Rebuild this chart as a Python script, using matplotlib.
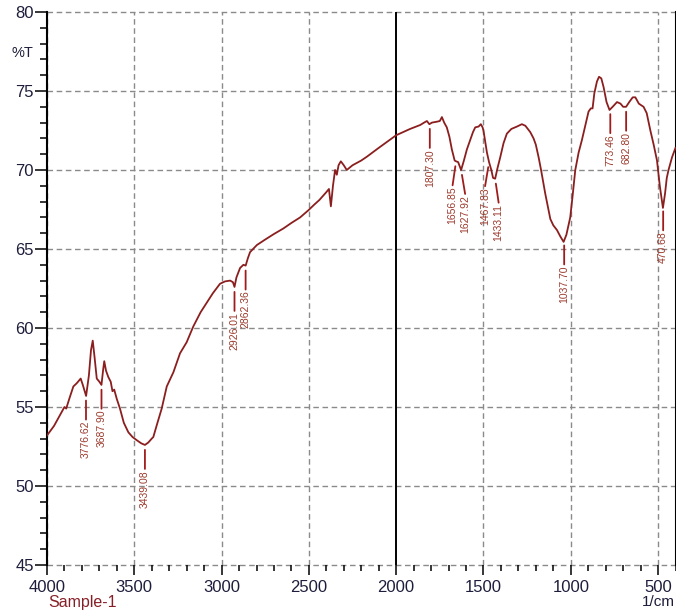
"""FTIR transmittance spectrum of Sample-1 with labelled absorption bands."""

import numpy as np
import matplotlib.pyplot as plt
from matplotlib.ticker import MultipleLocator

plt.rcParams['font.family'] = ['Liberation Sans', 'DejaVu Sans']

# spectrum, wavenumber (1/cm) vs transmittance (%T)
wavenumber = [
    4000, 3960, 3930, 3900, 3890, 3870, 3849, 3830, 3807, 3795,
    3776, 3760, 3748, 3738, 3728, 3715, 3700, 3688, 3678, 3672,
    3662, 3649, 3635, 3625, 3615, 3600, 3582, 3560, 3534, 3510,
    3486, 3460, 3439, 3420, 3400, 3391, 3370, 3343, 3314, 3276,
    3238, 3200, 3162, 3120, 3085, 3050, 3009, 2980, 2951, 2935,
    2926, 2915, 2894, 2875, 2862, 2850, 2837, 2798, 2750, 2700,
    2646, 2600, 2550, 2503, 2470, 2440, 2400, 2385, 2374, 2362,
    2350, 2340, 2330, 2317, 2300, 2283, 2250, 2200, 2168, 2100,
    2050, 2000, 1960, 1920, 1862, 1840, 1824, 1810, 1795, 1770,
    1750, 1738, 1725, 1710, 1695, 1681, 1665, 1657, 1645, 1628,
    1612, 1595, 1576, 1560, 1547, 1528, 1515, 1505, 1500, 1490,
    1480, 1468, 1455, 1445, 1433, 1420, 1404, 1385, 1366, 1340,
    1308, 1280, 1260, 1232, 1213, 1200, 1184, 1170, 1146, 1117,
    1100, 1079, 1060, 1041, 1025, 1003, 990, 974, 955, 936,
    915, 898, 885, 875, 865, 850, 838, 825, 812, 795,
    778, 760, 735, 715, 700, 683, 665, 645, 630, 610,
    583, 565, 544, 525, 506, 490, 472, 460, 450, 440,
    420, 400,
]
transmittance = [
    53.2, 53.8, 54.4, 55.0, 54.9, 55.6, 56.3, 56.5, 56.8, 56.4,
    55.7, 57.0, 58.6, 59.2, 58.2, 56.8, 56.6, 56.4, 57.4, 57.9,
    57.3, 56.9, 56.6, 56.0, 56.1, 55.5, 54.9, 54.0, 53.4, 53.1,
    52.9, 52.7, 52.6, 52.75, 53.0, 53.1, 53.9, 54.9, 56.3, 57.2,
    58.4, 59.1, 60.1, 61.0, 61.6, 62.2, 62.8, 62.95, 63.0, 62.9,
    62.6, 63.2, 63.8, 64.0, 63.95, 64.4, 64.8, 65.25, 65.6, 65.95,
    66.3, 66.65, 67.0, 67.45, 67.8, 68.1, 68.6, 68.8, 67.7, 69.0,
    70.0, 69.7, 70.3, 70.55, 70.3, 70.0, 70.3, 70.6, 70.84, 71.4,
    71.8, 72.2, 72.4, 72.6, 72.85, 73.0, 73.1, 72.9, 73.0, 73.05,
    73.1, 73.35, 73.0, 72.7, 72.1, 71.3, 70.6, 70.55, 70.5, 70.0,
    70.6, 71.3, 71.9, 72.4, 72.7, 72.75, 72.9, 72.7, 72.5, 71.8,
    71.1, 70.5, 70.0, 69.5, 69.45, 70.1, 70.8, 71.7, 72.3, 72.6,
    72.75, 72.9, 72.8, 72.4, 72.0, 71.6, 70.8, 70.0, 68.5, 66.9,
    66.5, 66.2, 65.8, 65.45, 65.9, 67.0, 68.3, 70.0, 71.1, 71.9,
    72.9, 73.7, 73.9, 73.9, 74.85, 75.6, 75.9, 75.8, 75.25, 74.3,
    73.8, 74.0, 74.3, 74.2, 74.0, 74.0, 74.3, 74.6, 74.6, 74.2,
    74.0, 73.6, 72.5, 71.6, 70.6, 69.0, 67.6, 68.5, 69.5, 70.0,
    70.8, 71.4,
]

# picked bands and the sideways shift of crowded labels (pixels)
peak_wn = [3776.62, 3687.90, 3439.08, 2926.01, 2862.36, 1807.30, 1656.85,
           1627.92, 1467.83, 1433.11, 1037.70, 773.46, 682.80, 470.68]
peak_shift = [0, 0, 0, 0, 0, 0, -3.5, 4, -4, 3.5, 0, 0, 0, 0]

x_major = [4000, 3500, 3000, 2500, 2000, 1500, 1000, 500]
y_major = [45, 50, 55, 60, 65, 70, 75, 80]

curve_color = '#8b1e1e'
label_color = '#9c3a2c'
ink = '#1e1e3c'
grid_kw = dict(color='#8a8a8a', lw=1.0, linestyle=(0, (4, 2.6)), zorder=1)

fig = plt.figure(figsize=(6.76, 6.14), dpi=100)
ax = fig.add_axes([47 / 676, 1 - 565 / 614, 628.5 / 676, 553 / 614])

ax.plot(wavenumber, transmittance, color=curve_color, lw=1.3, zorder=4)
ax.set_xlim(4000, 400)
ax.set_ylim(45, 80)

for x in x_major:
    if x == 2000:
        ax.axvline(x, color='black', lw=1.4, zorder=2)
    else:
        ax.axvline(x, **grid_kw)
for y in y_major:
    ax.axhline(y, clip_on=False, **grid_kw)

ax.set_xticks(x_major)
ax.set_yticks(y_major)
ax.xaxis.set_minor_locator(MultipleLocator(100))
ax.yaxis.set_minor_locator(MultipleLocator(1))
ax.tick_params(axis='x', which='major', length=7.2, width=1.1, pad=3.5,
               labelsize=12, labelcolor=ink)
ax.tick_params(axis='x', which='minor', length=4.3, width=1.1)
ax.tick_params(axis='y', which='major', length=8.6, width=1.1, pad=1,
               labelsize=12, labelcolor=ink)
ax.tick_params(axis='y', which='minor', length=5.0, width=1.1)

for side in ['top', 'bottom']:
    ax.spines[side].set_visible(False)
for side in ['left', 'right']:
    ax.spines[side].set_linewidth(1.5)

# peak markers: short leader under the curve, value written upward
px = 72 / fig.dpi
gap, length = 5, 19
wn_asc = wavenumber[::-1]
t_asc = transmittance[::-1]
for wn, dx in zip(peak_wn, peak_shift):
    t = np.interp(wn, wn_asc, t_asc)
    ax.annotate('', xy=(wn, t), xytext=(dx * px, -(gap + length) * px),
                textcoords='offset points',
                arrowprops=dict(arrowstyle='-', color='#a01c1c', lw=1.3,
                                shrinkA=0, shrinkB=gap * px),
                zorder=5)
    ax.annotate(f'{wn:.2f}', xy=(wn, t), xytext=(dx * px, -(gap + length + 1) * px),
                textcoords='offset points', rotation=90, ha='center', va='top',
                fontsize=7.5, color=label_color, zorder=5)

fig.text(22 / 676, 1 - 53 / 614, '%T', fontsize=10.5, color=ink,
         ha='center', va='center')
fig.text(48 / 676, 1 - 602 / 614, 'Sample-1', fontsize=11.5, color='#862028',
         ha='left', va='center')
fig.text(675 / 676, 1 - 602 / 614, '1/cm', fontsize=11, color=ink,
         ha='right', va='center')

fig.savefig('out.png', dpi=100)
